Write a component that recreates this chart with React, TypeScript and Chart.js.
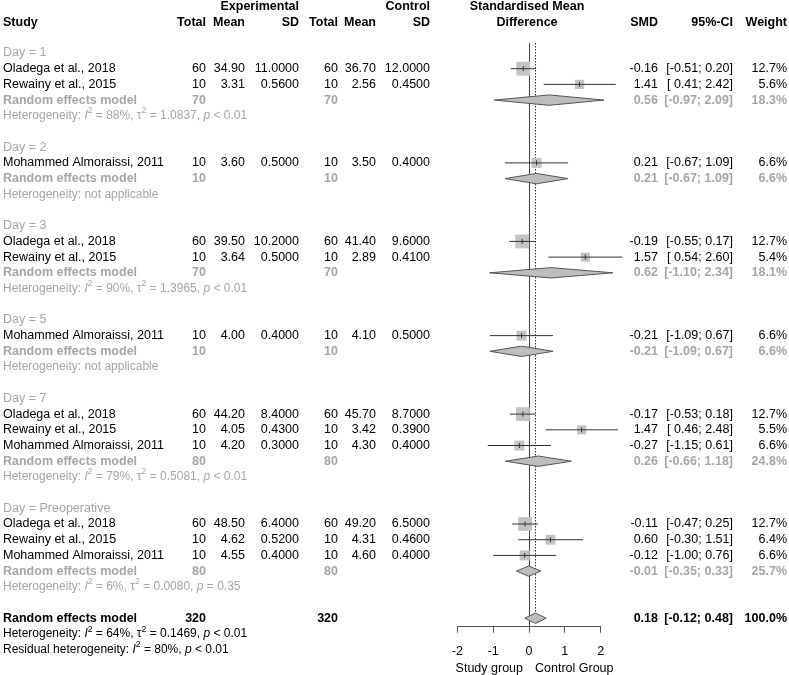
import { useEffect, useRef } from "react";
import { Chart, registerables } from "chart.js";
Chart.register(...registerables);

// ---------- DATA ----------
const groupLabels = ["Day = 1", "Day = 2", "Day = 3", "Day = 5", "Day = 7", "Day = Preoperative"];
const groupSizes = [2, 1, 2, 1, 3, 3];

const studyNames = [
  "Oladega et al., 2018", "Rewainy et al., 2015",
  "Mohammed Almoraissi, 2011",
  "Oladega et al., 2018", "Rewainy et al., 2015",
  "Mohammed Almoraissi, 2011",
  "Oladega et al., 2018", "Rewainy et al., 2015", "Mohammed Almoraissi, 2011",
  "Oladega et al., 2018", "Rewainy et al., 2015", "Mohammed Almoraissi, 2011",
];
const expTotal = [60, 10, 10, 60, 10, 10, 60, 10, 10, 60, 10, 10];
const expMean = [34.9, 3.31, 3.6, 39.5, 3.64, 4.0, 44.2, 4.05, 4.2, 48.5, 4.62, 4.55];
const expSD = [11.0, 0.56, 0.5, 10.2, 0.5, 0.4, 8.4, 0.43, 0.3, 6.4, 0.52, 0.4];
const ctlTotal = [60, 10, 10, 60, 10, 10, 60, 10, 10, 60, 10, 10];
const ctlMean = [36.7, 2.56, 3.5, 41.4, 2.89, 4.1, 45.7, 3.42, 4.3, 49.2, 4.31, 4.6];
const ctlSD = [12.0, 0.45, 0.4, 9.6, 0.41, 0.5, 8.7, 0.39, 0.4, 6.5, 0.46, 0.4];
const studySMD = [-0.16, 1.41, 0.21, -0.19, 1.57, -0.21, -0.17, 1.47, -0.27, -0.11, 0.6, -0.12];
const studyLo = [-0.51, 0.41, -0.67, -0.55, 0.54, -1.09, -0.53, 0.46, -1.15, -0.47, -0.3, -1.0];
const studyHi = [0.2, 2.42, 1.09, 0.17, 2.6, 0.67, 0.18, 2.48, 0.61, 0.25, 1.51, 0.76];
const studyWeight = [12.7, 5.6, 6.6, 12.7, 5.4, 6.6, 12.7, 5.5, 6.6, 12.7, 6.4, 6.6];

const groupExpTotal = [70, 10, 70, 10, 80, 80];
const groupCtlTotal = [70, 10, 70, 10, 80, 80];
const groupSMD = [0.56, 0.21, 0.62, -0.21, 0.26, -0.01];
const groupLo = [-0.97, -0.67, -1.1, -1.09, -0.66, -0.35];
const groupHi = [2.09, 1.09, 2.34, 0.67, 1.18, 0.33];
const groupWeight = [18.3, 6.6, 18.1, 6.6, 24.8, 25.7];
const groupI2 = ["88%", null, "90%", null, "79%", "6%"];
const groupTau2 = ["1.0837", null, "1.3965", null, "0.5081", "0.0080"];
const groupP = ["< 0.01", null, "< 0.01", null, "< 0.01", "= 0.35"];

const overallExpTotal = 320;
const overallCtlTotal = 320;
const overallSMD = 0.18;
const overallLo = -0.12;
const overallHi = 0.48;
const overallWeight = 100.0;
const overallI2 = "64%";
const overallTau2 = "0.1469";
const overallP = "< 0.01";
const residualI2 = "80%";
const residualP = "< 0.01";

const xTicks = [-2, -1, 0, 1, 2];
const leftLabel = "Study group";
const rightLabel = "Control Group";

// ---------- LAYOUT HELPERS ----------
const FONT = "'Liberation Sans', Arial, Helvetica, sans-serif";
const FS = 12.5;
const HFS = 12;
const GRAY = "#a6a6a6";
const BLACK = "#000000";

const groupRow: number[] = [];
const studyRow: number[] = [];
const reRow: number[] = [];
const hetRow: number[] = [];
(() => {
  let r = 0;
  groupSizes.forEach((n) => {
    groupRow.push(r++);
    for (let k = 0; k < n; k++) studyRow.push(r++);
    reRow.push(r++);
    hetRow.push(r++);
    r++;
  });
})();
const overallRow = reRow[reRow.length - 1] + 3;

const fmtCI = (lo: number, hi: number) =>
  "[" + (lo >= 0 ? " " : "") + lo.toFixed(2) + "; " + hi.toFixed(2) + "]";

const col = {
  study: 3,
  expN: 206,
  expMean: 245,
  expSD: 299,
  ctlN: 338,
  ctlMean: 376,
  ctlSD: 430,
  smd: 658,
  ci: 733,
  weight: 787,
};

type Seg = { t: string; it?: boolean; sup?: boolean };

function drawRich(ctx: CanvasRenderingContext2D, segs: Seg[], x: number, y: number, color: string, size: number) {
  ctx.save();
  ctx.fillStyle = color;
  ctx.textAlign = "left";
  ctx.textBaseline = "middle";
  let cx = x;
  for (const s of segs) {
    const fs = s.sup ? size * 0.72 : size;
    ctx.font = (s.it ? "italic " : "") + fs + "px " + FONT;
    ctx.fillText(s.t, cx, s.sup ? y - size * 0.4 : y);
    cx += ctx.measureText(s.t).width;
  }
  ctx.restore();
}

function hetSegs(prefix: string, i2: string, tau2: string | null, p: string): Seg[] {
  const segs: Seg[] = [{ t: prefix }, { t: "I", it: true }, { t: "2", sup: true }, { t: " = " + i2 + ", " }];
  if (tau2 !== null) {
    segs.push({ t: "\u03c4" }, { t: "2", sup: true }, { t: " = " + tau2 + ", " });
  }
  segs.push({ t: "p", it: true }, { t: " " + p });
  return segs;
}

function txt(ctx: CanvasRenderingContext2D, s: string, x: number, y: number, align: CanvasTextAlign, bold: boolean, color: string, size = FS) {
  ctx.font = (bold ? "bold " : "") + size + "px " + FONT;
  ctx.fillStyle = color;
  ctx.textAlign = align;
  ctx.textBaseline = "middle";
  ctx.fillText(s, x, y);
}

const forestPlugin = {
  id: "forest",
  beforeDatasetsDraw(chart: any) {
    const ctx: CanvasRenderingContext2D = chart.ctx;
    const xs = chart.scales.x;
    const ys = chart.scales.y;
    const top = chart.chartArea.top;
    const bottom = chart.chartArea.bottom;
    ctx.save();
    ctx.strokeStyle = "#444";
    ctx.lineWidth = 1;
    const x0 = Math.round(xs.getPixelForValue(0)) + 0.5;
    ctx.beginPath();
    ctx.moveTo(x0, top);
    ctx.lineTo(x0, bottom);
    ctx.stroke();
    const xo = Math.round(xs.getPixelForValue(overallSMD)) + 0.5;
    ctx.setLineDash([1.5, 1.5]);
    ctx.strokeStyle = "#333";
    ctx.beginPath();
    ctx.moveTo(xo, top);
    ctx.lineTo(xo, ys.getPixelForValue(overallRow - 0.33));
    ctx.stroke();
    ctx.restore();
  },
  afterDatasetsDraw(chart: any) {
    const ctx: CanvasRenderingContext2D = chart.ctx;
    const xs = chart.scales.x;
    const ys = chart.scales.y;
    const diamond = (lo: number, est: number, hi: number, row: number) => {
      const yc = ys.getPixelForValue(row);
      const h = ys.getPixelForValue(row + 0.33) - yc;
      ctx.beginPath();
      ctx.moveTo(xs.getPixelForValue(lo), yc);
      ctx.lineTo(xs.getPixelForValue(est), yc - h);
      ctx.lineTo(xs.getPixelForValue(hi), yc);
      ctx.lineTo(xs.getPixelForValue(est), yc + h);
      ctx.closePath();
      ctx.fillStyle = "#bdbdbd";
      ctx.fill();
      ctx.strokeStyle = "#555";
      ctx.lineWidth = 1;
      ctx.stroke();
    };
    ctx.save();
    groupSMD.forEach((v, g) => diamond(groupLo[g], v, groupHi[g], reRow[g]));
    diamond(overallLo, overallSMD, overallHi, overallRow);
    ctx.restore();
  },
  afterDraw(chart: any) {
    const ctx: CanvasRenderingContext2D = chart.ctx;
    const xs = chart.scales.x;
    const ys = chart.scales.y;
    const Y = (r: number) => ys.getPixelForValue(r);
    ctx.save();
    const h1 = Y(-2.95);
    const h2 = Y(-1.93);
    const xc = xs.getPixelForValue(0) - 2;
    txt(ctx, "Experimental", col.expSD, h1, "right", true, BLACK);
    txt(ctx, "Control", col.ctlSD, h1, "right", true, BLACK);
    txt(ctx, "Standardised Mean", xc, h1, "center", true, BLACK);
    txt(ctx, "Study", col.study, h2, "left", true, BLACK);
    txt(ctx, "Total", col.expN, h2, "right", true, BLACK);
    txt(ctx, "Mean", col.expMean, h2, "right", true, BLACK);
    txt(ctx, "SD", col.expSD, h2, "right", true, BLACK);
    txt(ctx, "Total", col.ctlN, h2, "right", true, BLACK);
    txt(ctx, "Mean", col.ctlMean, h2, "right", true, BLACK);
    txt(ctx, "SD", col.ctlSD, h2, "right", true, BLACK);
    txt(ctx, "Difference", xc, h2, "center", true, BLACK);
    txt(ctx, "SMD", col.smd, h2, "right", true, BLACK);
    txt(ctx, "95%-CI", col.ci, h2, "right", true, BLACK);
    txt(ctx, "Weight", col.weight, h2, "right", true, BLACK);

    groupLabels.forEach((lab, g) => {
      txt(ctx, lab, col.study, Y(groupRow[g]), "left", false, GRAY);
      const yr = Y(reRow[g]);
      txt(ctx, "Random effects model", col.study, yr, "left", true, GRAY);
      txt(ctx, String(groupExpTotal[g]), col.expN, yr, "right", true, GRAY);
      txt(ctx, String(groupCtlTotal[g]), col.ctlN, yr, "right", true, GRAY);
      txt(ctx, groupSMD[g].toFixed(2), col.smd, yr, "right", true, GRAY);
      txt(ctx, fmtCI(groupLo[g], groupHi[g]), col.ci, yr, "right", true, GRAY);
      txt(ctx, groupWeight[g].toFixed(1) + "%", col.weight, yr, "right", true, GRAY);
      const yh = Y(hetRow[g]);
      if (groupI2[g] === null) {
        drawRich(ctx, [{ t: "Heterogeneity: not applicable" }], col.study, yh, GRAY, HFS);
      } else {
        drawRich(ctx, hetSegs("Heterogeneity: ", groupI2[g] as string, groupTau2[g], groupP[g] as string), col.study, yh, GRAY, HFS);
      }
    });
    studyNames.forEach((name, i) => {
      const y = Y(studyRow[i]);
      txt(ctx, name, col.study, y, "left", false, BLACK);
      txt(ctx, String(expTotal[i]), col.expN, y, "right", false, BLACK);
      txt(ctx, expMean[i].toFixed(2), col.expMean, y, "right", false, BLACK);
      txt(ctx, expSD[i].toFixed(4), col.expSD, y, "right", false, BLACK);
      txt(ctx, String(ctlTotal[i]), col.ctlN, y, "right", false, BLACK);
      txt(ctx, ctlMean[i].toFixed(2), col.ctlMean, y, "right", false, BLACK);
      txt(ctx, ctlSD[i].toFixed(4), col.ctlSD, y, "right", false, BLACK);
      txt(ctx, studySMD[i].toFixed(2), col.smd, y, "right", false, BLACK);
      txt(ctx, fmtCI(studyLo[i], studyHi[i]), col.ci, y, "right", false, BLACK);
      txt(ctx, studyWeight[i].toFixed(1) + "%", col.weight, y, "right", false, BLACK);
    });
    const yo = Y(overallRow);
    txt(ctx, "Random effects model", col.study, yo, "left", true, BLACK);
    txt(ctx, String(overallExpTotal), col.expN, yo, "right", true, BLACK);
    txt(ctx, String(overallCtlTotal), col.ctlN, yo, "right", true, BLACK);
    txt(ctx, overallSMD.toFixed(2), col.smd, yo, "right", true, BLACK);
    txt(ctx, fmtCI(overallLo, overallHi), col.ci, yo, "right", true, BLACK);
    txt(ctx, overallWeight.toFixed(1) + "%", col.weight, yo, "right", true, BLACK);
    drawRich(ctx, hetSegs("Heterogeneity: ", overallI2, overallTau2, overallP), col.study, Y(overallRow + 1), BLACK, HFS);
    drawRich(ctx, hetSegs("Residual heterogeneity: ", residualI2, null, residualP), col.study, Y(overallRow + 2), BLACK, HFS);

    const x0 = xs.getPixelForValue(0);
    const yl = chart.chartArea.bottom + 42;
    txt(ctx, leftLabel, x0 - 6, yl, "right", false, BLACK);
    txt(ctx, rightLabel, x0 + 6, yl, "left", false, BLACK);
    ctx.restore();
  },
};

export default function App() {
  const ref = useRef<HTMLCanvasElement | null>(null);
  useEffect(() => {
    if (!ref.current) return;
    const pts = studySMD.map((v, i) => ({ x: v, y: studyRow[i] }));
    const ciSets = studySMD.map((_, i) => ({
      type: "line" as const,
      data: [
        { x: studyLo[i], y: studyRow[i] },
        { x: studyHi[i], y: studyRow[i] },
      ],
      showLine: true,
      borderColor: "#333",
      borderWidth: 1,
      pointRadius: 0,
      clip: false as any,
      order: 2,
    }));
    const chart = new Chart(ref.current, {
      type: "scatter",
      data: {
        datasets: [
          {
            data: pts,
            pointStyle: "line",
            rotation: 90,
            pointRadius: 2.5,
            borderColor: "#333",
            borderWidth: 1,
            clip: false as any,
            order: 1,
          } as any,
          ...ciSets,
          {
            data: pts,
            pointStyle: "rect",
            pointRadius: (c: any) => (3.9 * Math.sqrt(studyWeight[c.dataIndex] ?? 0)) / 1.4142,
            backgroundColor: "#c4c4c4",
            borderWidth: 0,
            clip: false as any,
            order: 3,
          } as any,
        ],
      },
      options: {
        responsive: false,
        animation: false,
        events: [],
        layout: { padding: { left: 457.3, right: 188.3, top: 43, bottom: 18.3 } },
        plugins: { legend: { display: false }, tooltip: { enabled: false } },
        scales: {
          x: {
            type: "linear",
            min: -2,
            max: 2,
            position: "bottom",
            afterFit: (s: any) => {
              s.height = 30;
            },
            afterBuildTicks: (s: any) => {
              s.ticks = xTicks.map((v) => ({ value: v }));
            },
            ticks: { color: BLACK, font: { family: FONT, size: FS }, padding: 11 },
            grid: { drawOnChartArea: false, drawTicks: true, tickLength: 6, color: "#555" },
            border: { display: true, color: "#555" },
          },
          y: {
            type: "linear",
            display: false,
            reverse: true,
            min: -0.637,
            max: 36.54,
          },
        },
      },
      plugins: [forestPlugin],
    } as any);
    return () => chart.destroy();
  }, []);
  return (
    <div style={{ position: "absolute", left: 0, top: 0, width: 789, height: 675, background: "#fff" }}>
      <canvas ref={ref} width={789} height={675} style={{ display: "block" }} />
    </div>
  );
}
